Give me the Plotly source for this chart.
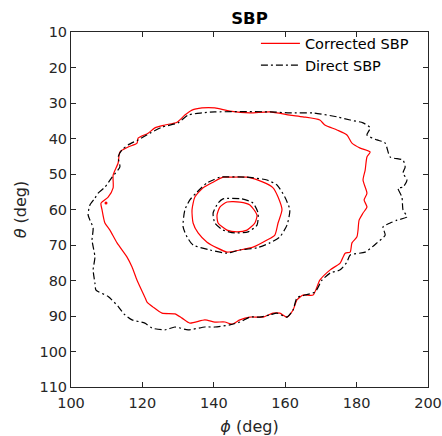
import plotly.graph_objects as go

# Corrected SBP contours (phi, theta) in degrees
corr_outer_phi = [112.9,110.9,109.5,108.7,108.4,110.4,111.8,111.8,113.2,113.7,116.0,118.5,118.8,121.6,123.5,126.3,129.7,131.9,133.9,136.7,140.3,144.5,150.1,155.7,161.3,165.0,169.7,171.1,174.5,177.3,178.7,181.0,183.8,182.9,182.4,181.8,182.9,182.1,182.9,181.8,180.7,180.4,180.1,178.7,178.2,176.8,175.4,172.6,169.7,167.8,165.0,163.3,162.2,160.5,158.5,156.6,153.8,150.1,147.3,145.1,143.1,140.3,137.5,133.3,131.1,129.1,125.5,123.0,121.3,120.7,118.5,117.1,115.7,112.9]
corr_outer_theta = [69.4,65.8,63.8,60.1,58.2,56.5,53.9,50.3,46.9,43.8,42.4,41.3,39.9,38.5,37.0,36.2,35.4,33.4,32.0,31.4,31.4,32.3,32.8,32.5,33.4,33.9,34.8,36.2,37.6,39.0,41.3,42.7,43.8,45.2,48.9,51.7,55.4,57.3,59.3,61.0,63.0,65.8,67.7,69.4,72.0,72.3,75.1,77.0,79.9,84.1,84.1,85.5,88.3,90.3,89.2,89.2,90.3,90.3,91.1,92.3,91.7,91.7,91.1,92.0,90.6,89.4,89.2,87.5,86.1,84.7,79.9,76.2,73.4,69.4]

corr_mid_phi = [144.5,149.3,153.8,156.6,158.0,159.1,158.0,157.1,154.9,151.0,147.3,143.7,140.9,138.1,135.6,134.2,133.9,134.7,137.0,139.8,142.6,144.5]
corr_mid_theta = [50.9,50.9,52.3,53.9,56.5,60.1,63.8,67.2,68.6,70.6,71.4,72.0,70.8,69.2,66.6,63.8,60.1,56.5,53.9,52.3,50.9,50.9]

corr_in_phi = [143.7,147.3,150.1,152.1,151.5,149.3,146.5,143.7,141.2,140.9,141.7,143.7]
corr_in_theta = [57.9,57.9,58.7,61.6,63.8,65.8,66.3,65.8,63.8,61.6,59.3,57.9]

corr_dot_phi = [109.8]
corr_dot_theta = [58.2]

# Direct SBP contours
dir_outer_phi = [106.7,107.6,109.5,111.5,113.7,113.2,114.3,116.0,118.8,122.1,125.5,130.0,132.8,136.7,140.3,155.7,161.3,167.8,174.5,178.2,181.8,183.8,182.9,185.7,188.0,189.4,193.0,193.6,193.0,194.1,193.0,191.6,192.7,193.0,194.1,191.3,189.4,187.4,188.0,185.7,182.4,178.2,177.3,175.4,172.6,170.3,168.4,165.5,163.3,162.2,160.5,157.7,155.7,152.9,150.1,147.3,144.5,140.3,137.5,132.8,129.1,126.3,122.7,120.7,117.1,114.8,113.2,110.4,107.0,106.7,106.2,106.7,105.9,106.2,104.8,105.3,106.7]
dir_outer_theta = [56.8,55.4,53.7,50.9,48.0,45.2,43.2,41.8,40.4,38.5,36.8,35.6,33.4,32.8,32.5,32.5,32.8,32.8,33.9,34.8,35.6,37.0,39.0,40.4,41.3,45.2,46.1,48.0,49.7,51.7,53.7,54.0,56.5,60.1,62.1,63.0,63.8,64.9,67.2,69.4,72.0,72.8,74.8,77.0,77.9,79.9,83.2,84.1,84.9,88.3,90.3,89.2,89.7,90.3,90.3,91.7,92.5,93.1,93.1,93.9,93.1,93.9,93.4,92.0,91.1,89.4,87.3,84.5,82.7,80.7,77.0,73.4,68.6,65.2,61.6,58.7,56.8]

dir_mid_phi = [141.7,149.3,154.9,157.7,159.9,161.3,160.5,158.5,155.7,152.1,147.3,143.7,138.9,134.2,132.5,131.4,131.9,133.3,135.3,138.1,139.8,141.7]
dir_mid_theta = [50.9,50.9,51.7,53.1,56.5,60.1,64.4,67.7,69.4,70.8,71.4,72.3,71.4,70.0,67.7,64.9,60.1,57.3,55.1,52.5,51.7,50.9]

dir_in_phi = [142.6,147.9,151.0,152.4,152.1,149.6,145.9,142.6,140.3,139.8,141.2,142.6]
dir_in_theta = [57.0,57.0,58.2,61.0,64.4,66.3,66.6,65.8,63.8,61.0,58.2,57.0]

x_ticks = [100, 120, 140, 160, 180, 200]
y_ticks = [10, 20, 30, 40, 50, 60, 70, 80, 90, 100, 110]

FONT = "DejaVu Sans"
AX = "#262626"

fig = go.Figure()

red = dict(color="#ff0000", width=1.2)
blk = dict(color="#000000", width=1.2, dash="7px,3px,2px,3px")

for i, (px, py) in enumerate([(corr_outer_phi, corr_outer_theta),
                              (corr_mid_phi, corr_mid_theta),
                              (corr_in_phi, corr_in_theta)]):
    fig.add_trace(go.Scatter(x=px, y=py, mode="lines", line=dict(red, shape="spline", smoothing=0.6),
                             name="Corrected SBP", legendgroup="c", showlegend=(i == 0)))
fig.add_trace(go.Scatter(x=corr_dot_phi, y=corr_dot_theta, mode="markers",
                         marker=dict(color="#ff0000", size=3), legendgroup="c", showlegend=False))
for i, (px, py) in enumerate([(dir_outer_phi, dir_outer_theta),
                              (dir_mid_phi, dir_mid_theta),
                              (dir_in_phi, dir_in_theta)]):
    fig.add_trace(go.Scatter(x=px, y=py, mode="lines", line=dict(blk, shape="spline", smoothing=0.6),
                             name="Direct SBP", legendgroup="d", showlegend=(i == 0)))

axis_common = dict(
    showline=True, linecolor=AX, linewidth=1, mirror="ticks",
    ticks="inside", ticklen=5, tickcolor=AX, tickwidth=1,
    showgrid=False, zeroline=False, automargin=False,
    tickfont=dict(family=FONT, size=14.5, color=AX),
)

fig.update_layout(
    width=442, height=436,
    margin=dict(l=71, r=14, t=32, b=49),
    paper_bgcolor="white", plot_bgcolor="white",
    font=dict(family=FONT, color=AX),
    title=dict(text="<b>SBP</b>", x=0.5, xanchor="center", xref="paper",
               y=1 - 18 / 436, yanchor="middle", font=dict(family=FONT, size=16.5, color="#000000")),
    showlegend=True,
    legend=dict(x=0.518, y=1.013, xanchor="left", yanchor="top", bgcolor="rgba(255,255,255,0)",
                borderwidth=0, font=dict(family=FONT, size=14.5, color="#000000"),
                tracegroupgap=0, itemwidth=39),
    xaxis=dict(axis_common, range=[100, 200], tickvals=x_ticks, ticklabelstandoff=3,
               title=dict(text="<i>ϕ</i> (deg)", font=dict(family=FONT, size=16, color=AX), standoff=10)),
    yaxis=dict(axis_common, range=[110, 10], tickvals=y_ticks,
               title=dict(text="<i>θ</i> (deg)", font=dict(family=FONT, size=16, color=AX), standoff=8)),
)

fig.write_html("out.html")
